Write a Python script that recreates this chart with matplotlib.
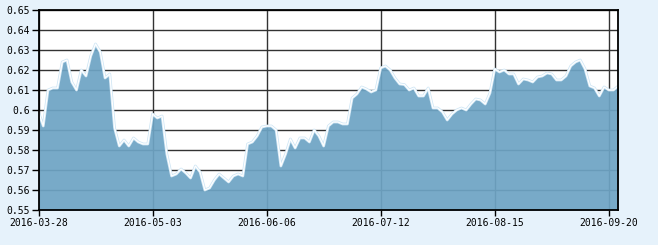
import matplotlib
matplotlib.use("Agg")
import matplotlib.pyplot as plt
import numpy as np

# daily values (trading days)
values = [
    0.599, 0.592, 0.610, 0.611, 0.611, 0.624, 0.625, 0.614, 0.610, 0.620,
    0.617, 0.627, 0.633, 0.629, 0.616, 0.618, 0.591, 0.582, 0.585, 0.582,
    0.586, 0.584, 0.583, 0.583, 0.598, 0.596, 0.597, 0.578, 0.567, 0.568,
    0.5705, 0.5685, 0.566, 0.572, 0.569, 0.560, 0.561, 0.565, 0.568, 0.566,
    0.564, 0.567, 0.568, 0.567, 0.583, 0.584, 0.587, 0.5915, 0.592, 0.592,
    0.590, 0.572, 0.578, 0.5855, 0.581, 0.586, 0.586, 0.584, 0.590, 0.587,
    0.582, 0.592, 0.594, 0.594, 0.593, 0.593, 0.606, 0.608, 0.6115, 0.6105,
    0.609, 0.610, 0.621, 0.622, 0.620, 0.616, 0.613, 0.6127, 0.610, 0.611,
    0.607, 0.607, 0.611, 0.601, 0.601, 0.599, 0.595, 0.598, 0.600, 0.601,
    0.600, 0.603, 0.6055, 0.605, 0.603, 0.6085, 0.6205, 0.619, 0.620, 0.618,
    0.618, 0.613, 0.6155, 0.615, 0.614, 0.6165, 0.617, 0.6185, 0.618, 0.615,
    0.615, 0.617, 0.622, 0.624, 0.625, 0.6205, 0.612, 0.611, 0.607, 0.6115,
    0.610, 0.610, 0.612,
]
tick_idx = [0, 24, 48, 72, 96, 120]
tick_labels = ["2016-03-28", "2016-05-03", "2016-06-06",
               "2016-07-12", "2016-08-15", "2016-09-20"]
y_ticks = [0.55, 0.56, 0.57, 0.58, 0.59, 0.60, 0.61, 0.62, 0.63, 0.64, 0.65]

bg = "#e6f2fb"
fill_color = "#6ea4c4"

fig = plt.figure(figsize=(6.58, 2.45), dpi=100, facecolor=bg)
ax = fig.add_axes([38.5 / 658, 35 / 245, (618.3 - 38.5) / 658, 200 / 245])
ax.set_facecolor("white")

x = np.arange(len(values))
ax.fill_between(x, 0.55, values, color=fill_color, alpha=0.93, lw=0, zorder=2)
# soft pale halo + thin white edge on top of the area
ax.plot(x, values, color="#cfe6f5", lw=2.0, zorder=3, solid_joinstyle="round")
ax.plot(x, values, color="white", lw=0.9, zorder=4, solid_joinstyle="round")

ax.set_xlim(0, len(values) - 1)
ax.set_ylim(0.55, 0.65)
ax.set_xticks(tick_idx)
ax.set_xticklabels(tick_labels)
ax.set_yticks(y_ticks)
ax.set_yticklabels([f"{v:g}" for v in y_ticks])

ax.grid(True, color="#333333", lw=1.0, zorder=1)
ax.set_axisbelow(True)

for lab in ax.get_xticklabels() + ax.get_yticklabels():
    lab.set_fontfamily("DejaVu Sans Mono")
    lab.set_fontsize(7)
    lab.set_color("black")
ax.tick_params(axis="y", direction="out", length=5, width=1, pad=1)
ax.tick_params(axis="x", direction="out", length=4, width=1, pad=2)

for s in ax.spines.values():
    s.set_color("black")
    s.set_linewidth(1.3)
    s.set_zorder(5)

fig.savefig("out.png", dpi=100, facecolor=bg)
